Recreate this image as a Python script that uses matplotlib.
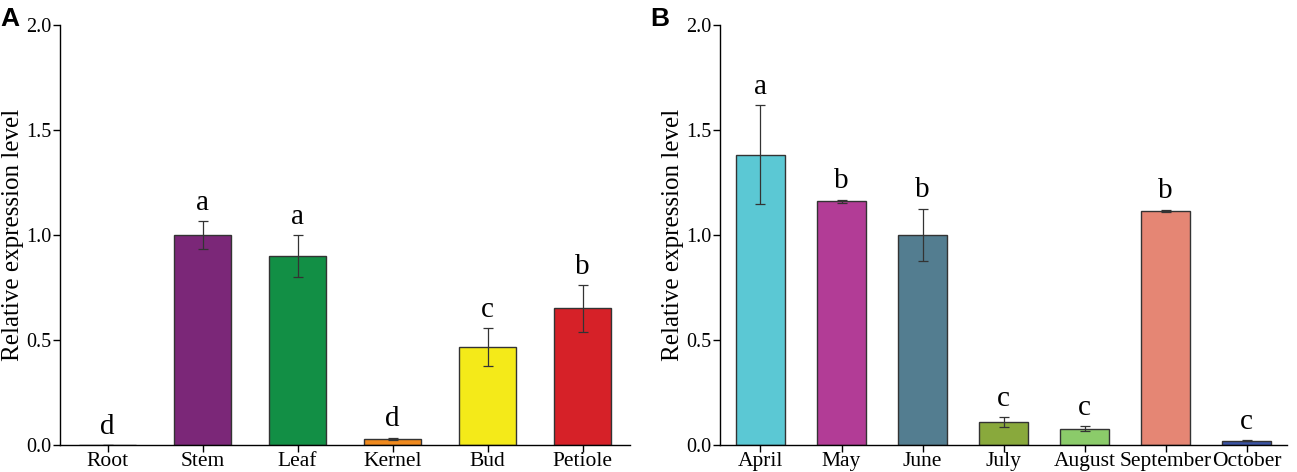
import matplotlib.pyplot as plt

# panel A: tissues
tissues = ["Root", "Stem", "Leaf", "Kernel", "Bud", "Petiole"]
tissue_vals = [0.0, 1.0, 0.90, 0.03, 0.465, 0.65]
tissue_err = [0.0, 0.065, 0.10, 0.005, 0.09, 0.11]
tissue_sig = ["d", "a", "a", "d", "c", "b"]
tissue_colors = ["#ffffff", "#7b2778", "#128f45", "#f08a1e", "#f4ea19", "#d62128"]

# panel B: months
months = ["April", "May", "June", "July", "August", "September", "October"]
month_vals = [1.383, 1.16, 1.0, 0.108, 0.078, 1.115, 0.02]
month_err = [0.235, 0.008, 0.125, 0.023, 0.012, 0.006, 0.003]
month_sig = ["a", "b", "b", "c", "c", "b", "c"]
month_colors = ["#5bc8d4", "#b23c96", "#537d90", "#89a93c", "#8bcb6a", "#e58674", "#3a53a4"]

plt.rcParams['font.family'] = ['Liberation Serif', 'DejaVu Serif']

fig = plt.figure(figsize=(12.97, 4.72), dpi=100)
axA = fig.add_axes([0.0463, 0.0572, 0.4395, 0.890])
axB = fig.add_axes([0.5551, 0.0572, 0.4373, 0.890])


def draw(ax, cats, vals, errs, sig, colors):
    x = range(len(cats))
    ax.bar(x, vals, width=0.6, color=colors, edgecolor="#333333", linewidth=1.0,
           yerr=errs, error_kw=dict(ecolor="#333333", elinewidth=0.9, capsize=3.6, capthick=0.9))
    for i, v in enumerate(vals):
        ax.text(i, v + errs[i] + 0.025, sig[i], ha="center", va="bottom", fontsize=21)
    ax.set_xlim(-0.5, len(cats) - 0.5)
    ax.set_ylim(0, 2.0)
    ax.set_yticks([0.0, 0.5, 1.0, 1.5, 2.0])
    ax.set_yticklabels(["0.0", "0.5", "1.0", "1.5", "2.0"])
    ax.set_xticks(list(x))
    ax.set_xticklabels(cats, fontsize=15.5)
    ax.tick_params(axis="y", labelsize=14.5, length=5, width=1.0, direction="out", pad=1)
    ax.tick_params(axis="x", length=5, width=1.0, direction="out", pad=0)
    ax.spines["top"].set_visible(False)
    ax.spines["right"].set_visible(False)
    ax.spines["left"].set_linewidth(1.0)
    ax.spines["bottom"].set_linewidth(1.0)
    ax.set_ylabel("Relative expression level", fontsize=18, labelpad=2)


draw(axA, tissues, tissue_vals, tissue_err, tissue_sig, tissue_colors)
draw(axB, months, month_vals, month_err, month_sig, month_colors)

fig.text(0.0, 0.985, "A", fontsize=19, fontweight="bold", family="Liberation Sans", va="top")
fig.text(0.501, 0.985, "B", fontsize=19, fontweight="bold", family="Liberation Sans", va="top")

fig.savefig("out.png", dpi=100)
